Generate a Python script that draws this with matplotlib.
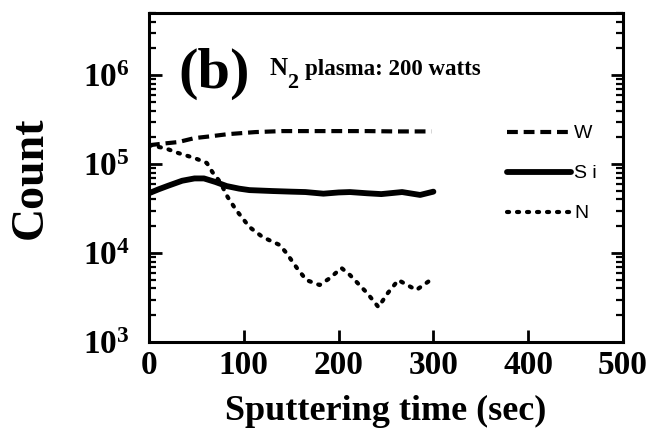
import math
import matplotlib
matplotlib.use("Agg")
import matplotlib.pyplot as plt
from matplotlib.ticker import LogLocator, FuncFormatter, NullFormatter

plt.rcParams['font.family'] = ['Liberation Serif', 'DejaVu Serif']
plt.rcParams['font.weight'] = 'bold'
plt.rcParams['mathtext.fontset'] = 'custom'
plt.rcParams['mathtext.rm'] = 'Liberation Serif:bold'
plt.rcParams['mathtext.bf'] = 'Liberation Serif:bold'
plt.rcParams['mathtext.it'] = 'Liberation Serif:bold'

# data (time in sec, counts)
t_w = [0, 15, 31, 48, 66, 83, 112, 140, 170, 200, 230, 260, 298]
w_counts = [1.63e5, 1.70e5, 1.77e5, 1.96e5, 2.06e5, 2.17e5, 2.29e5, 2.35e5,
            2.35e5, 2.35e5, 2.35e5, 2.33e5, 2.33e5]

t_si = [0, 10, 20, 35, 48, 58, 70, 82, 95, 106, 130, 150, 165, 184, 200,
        212, 230, 245, 267, 286, 300]
si_counts = [4.7e4, 5.2e4, 5.7e4, 6.5e4, 6.9e4, 6.9e4, 6.3e4, 5.66e4, 5.3e4,
             5.1e4, 4.98e4, 4.9e4, 4.85e4, 4.65e4, 4.8e4, 4.85e4, 4.7e4,
             4.6e4, 4.85e4, 4.5e4, 4.9e4]

t_n = [0, 17, 31, 48, 61, 67, 75, 83, 92, 106, 120, 138, 145, 156, 166, 180,
       191, 203, 212, 230, 242, 252, 263, 282, 300]
n_counts = [1.63e5, 1.51e5, 1.33e5, 1.17e5, 1.03e5, 8.1e4, 6.3e4, 4.26e4,
            3.04e4, 1.96e4, 1.51e4, 1.23e4, 1.0e4, 6.8e3, 4.97e3, 4.37e3,
            5.24e3, 6.8e3, 5.66e3, 3.56e3, 2.47e3, 3.56e3, 4.97e3, 3.84e3,
            5.24e3]

x_ticks = [0, 100, 200, 300, 400, 500]

fig = plt.figure(figsize=(6.54, 4.37), dpi=100)
ax = fig.add_axes([0.2278, 0.2174, 0.7248, 0.7529])

ax.plot(t_w, w_counts, color='black', lw=3.0, linestyle=(0, (2.6, 1.4)), label='W')
ax.plot(t_si, si_counts, color='black', lw=4.2, solid_capstyle='round', label='S i')
ax.plot(t_n, n_counts, color='black', lw=3.0, linestyle=(0, (0.5, 1.9)),
        dash_capstyle='round', label='N')

ax.set_yscale('log')
ax.set_xlim(0, 500)
ax.set_ylim(1e3, 5e6)
ax.set_xticks(x_ticks)
ax.set_xticklabels([str(v) for v in x_ticks])
ax.yaxis.set_major_locator(LogLocator(base=10, numticks=10))
ax.yaxis.set_minor_locator(LogLocator(base=10, subs=range(2, 10), numticks=20))
ax.yaxis.set_major_formatter(FuncFormatter(lambda v, p: r'$10^{%d}$' % round(math.log10(v))))
ax.yaxis.set_minor_formatter(NullFormatter())

for s in ax.spines.values():
    s.set_linewidth(2.2)
ax.tick_params(axis='both', which='major', direction='in', length=9, width=2,
               labelsize=24)
ax.tick_params(axis='y', which='minor', direction='in', length=5, width=1.6)
ax.tick_params(axis='y', which='both', right=True)
ax.tick_params(axis='y', which='major', pad=14)
ax.tick_params(axis='x', which='major', pad=6)

ax.set_xlabel('Sputtering time (sec)', fontsize=26, fontweight='bold', labelpad=10)
ax.set_ylabel('Count', fontsize=33, fontweight='bold', labelpad=22)

ax.text(0.061, 0.772, '(b)', transform=ax.transAxes, fontsize=42,
        fontweight='bold', va='baseline')
ax.text(0.255, 0.812, 'N', transform=ax.transAxes,
        fontsize=18, fontweight='bold', va='baseline')
ax.text(0.292, 0.772, '2', transform=ax.transAxes,
        fontsize=16, fontweight='bold', va='baseline')
ax.text(0.330, 0.812, 'plasma: 200 watts', transform=ax.transAxes,
        fontsize=16.5, fontweight='bold', va='baseline')

leg = ax.legend(loc='upper left', bbox_to_anchor=(0.755, 0.66), frameon=False,
                prop={'family': 'Liberation Sans', 'weight': 'normal', 'size': 14},
                handlelength=3.3, handletextpad=0.15, labelspacing=1.15,
                borderpad=0, borderaxespad=0)

fig.savefig('out.png', dpi=100)
